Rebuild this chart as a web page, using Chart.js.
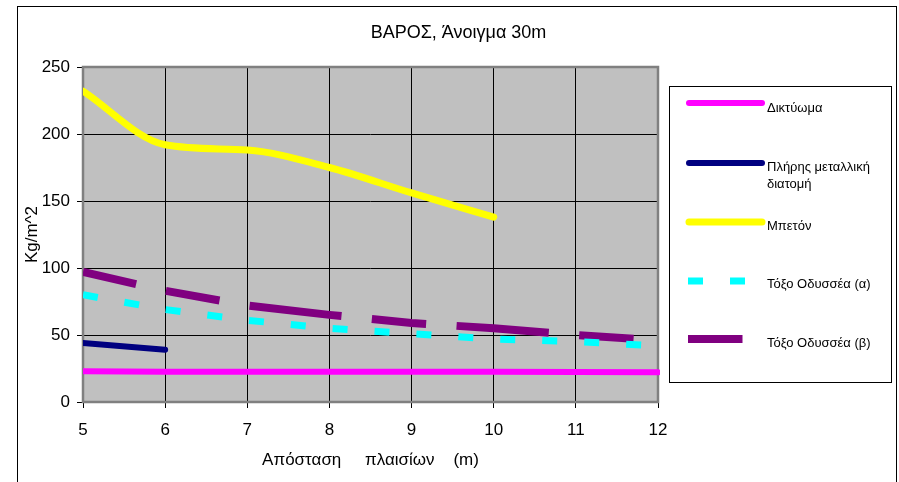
<!DOCTYPE html>
<html><head><meta charset="utf-8">
<script src="https://cdn.jsdelivr.net/npm/chart.js@4"></script>
<style>html,body{margin:0;padding:0;background:#fff;overflow:hidden}#wrap{position:relative;width:899px;height:482px}</style>
</head><body><div id="wrap"><canvas id="c" width="899" height="482"></canvas></div>
<script>
const xValues = [5, 6, 7, 8, 9, 10, 11, 12];
const diktyoma = [23, 22.5, 22.5, 22.5, 22.5, 22.5, 22.3, 22.2];
const plirisMetalliki = [44, 39];
const beton = [232, 192, 188, 175, 156, 138];
const toxoA = [80, 69, 61, 55, 51, 47, 45, 42];
const toxoB = [97, 83, 72, 65, 59, 55, 50, 46];
const yTicks = [0, 50, 100, 150, 200, 250];
const seriesNames = ['Δικτύωμα', ['Πλήρης μεταλλική', 'διατομή'], 'Μπετόν', 'Τόξο Οδυσσέα (α)', 'Τόξο Οδυσσέα (β)'];
const chartTitle = 'ΒΑΡΟΣ, Άνοιγμα 30m';
const xTitle = 'Απόσταση     πλαισίων    (m)';
const yTitle = 'Kg/m^2';

const FONT = '"Liberation Sans", Arial, sans-serif';
const pts = vals => vals.map((v, i) => ({ x: xValues[i], y: v }));
const CLIP = { left: 0, top: 5, right: 2, bottom: 5 };

const frameAndPlot = {
  id: 'frameAndPlot',
  beforeDraw(chart) {
    const { ctx, chartArea: a } = chart;
    ctx.save();
    ctx.fillStyle = '#fff';
    ctx.fillRect(0, 0, chart.width, chart.height);
    ctx.strokeStyle = '#000';
    ctx.lineWidth = 1;
    ctx.strokeRect(17.5, 6.5, 879, 520);
    ctx.fillStyle = '#C0C0C0';
    ctx.fillRect(a.left, a.top, a.right - a.left, a.bottom - a.top);
    ctx.restore();
  },
  beforeDatasetsDraw(chart) {
    const { ctx, chartArea: a } = chart;
    ctx.save();
    ctx.strokeStyle = '#808080';
    ctx.lineWidth = 2.5;
    ctx.strokeRect(a.left, a.top, a.right - a.left, a.bottom - a.top);
    ctx.restore();
  }
};

const boxLegend = {
  id: 'boxLegend',
  afterDraw(chart) {
    const ctx = chart.ctx;
    ctx.save();
    ctx.strokeStyle = '#000';
    ctx.lineWidth = 1;
    ctx.strokeRect(669.5, 86.5, 222, 296);
    const lineYs = [103, 163, 222, 281, 339];
    const textYs = [[108], [167, 184], [226], [284], [343]];
    chart.data.datasets.forEach((ds, i) => {
      const y = lineYs[i];
      ctx.save();
      ctx.strokeStyle = ds.borderColor;
      ctx.lineWidth = ds.borderWidth;
      ctx.beginPath();
      if (ds.borderDash && ds.borderDash.length) {
        ctx.lineCap = 'butt';
        ctx.setLineDash(ds.borderDash);
        ctx.moveTo(688, y); ctx.lineTo(766, y);
      } else {
        ctx.lineCap = 'round';
        ctx.moveTo(689, y); ctx.lineTo(762, y);
      }
      ctx.stroke();
      ctx.restore();
      const name = seriesNames[i];
      const lines = Array.isArray(name) ? name : [name];
      ctx.fillStyle = '#000';
      ctx.font = '13px ' + FONT;
      ctx.textBaseline = 'middle';
      ctx.textAlign = 'left';
      lines.forEach((t, j) => ctx.fillText(t, 767, textYs[i][j]));
    });
    ctx.restore();
  }
};

new Chart(document.getElementById('c'), {
  type: 'line',
  data: {
    datasets: [
      { label: 'Δικτύωμα', data: pts(diktyoma), borderColor: '#FF00FF', borderWidth: 6, borderCapStyle: 'round', pointRadius: 0, tension: 0, clip: CLIP },
      { label: 'Πλήρης μεταλλική διατομή', data: pts(plirisMetalliki), borderColor: '#000080', borderWidth: 6, borderCapStyle: 'round', pointRadius: 0, tension: 0, clip: CLIP },
      { label: 'Μπετόν', data: pts(beton), borderColor: '#FFFF00', borderWidth: 7, borderCapStyle: 'round', pointRadius: 0, cubicInterpolationMode: 'monotone', clip: CLIP },
      { label: 'Τόξο Οδυσσέα (α)', data: pts(toxoA), borderColor: '#00FFFF', borderWidth: 7, borderCapStyle: 'butt', borderDash: [15, 27], pointRadius: 0, tension: 0, clip: CLIP },
      { label: 'Τόξο Οδυσσέα (β)', data: pts(toxoB), borderColor: '#800080', borderWidth: 8, borderCapStyle: 'butt', borderDash: [54.5, 30.5, 54.5, 30.5, 92.5, 30.5, 54.5, 30.5, 92.5, 30.5, 54.5, 30.5], pointRadius: 0, tension: 0, clip: CLIP }
    ]
  },
  options: {
    responsive: false,
    animation: false,
    devicePixelRatio: 1,
    layout: { padding: { left: 18, right: 0, top: 0, bottom: 0 } },
    plugins: {
      legend: { display: false },
      tooltip: { enabled: false },
      title: {
        display: true, text: chartTitle, color: '#000',
        font: { family: FONT, size: 18, weight: 'normal' },
        padding: { top: 22.2, bottom: 23.2 }
      }
    },
    scales: {
      x: {
        type: 'linear', min: 5, max: 12,
        afterBuildTicks(s) { s.ticks = xValues.map(v => ({ value: v })); },
        ticks: { color: '#000', font: { family: FONT, size: 17 }, padding: 12, maxRotation: 0, autoSkip: false },
        grid: { color: '#000', lineWidth: 1, tickLength: 6, tickColor: '#000', drawTicks: true },
        border: { display: false },
        title: { display: true, text: xTitle, color: '#000', font: { family: FONT, size: 17 }, padding: { top: 0, bottom: 11 } },
        afterFit(s) { s.height = 80; }
      },
      y: {
        type: 'linear', min: 0, max: 250,
        afterBuildTicks(s) { s.ticks = yTicks.map(v => ({ value: v })); },
        ticks: { color: '#000', font: { family: FONT, size: 17 }, padding: 7 },
        grid: { color: '#000', lineWidth: 1, tickLength: 6, tickColor: '#000', drawTicks: true },
        border: { display: false },
        title: { display: true, text: yTitle, color: '#000', font: { family: FONT, size: 17 }, padding: { top: 4, bottom: 0 } },
        afterFit(s) { s.width = 65; }
      },
      legendSpace: {
        type: 'linear', position: 'right', display: true,
        ticks: { display: false },
        grid: { display: false, drawTicks: false },
        border: { display: false },
        afterFit(s) { s.width = 241; }
      }
    }
  },
  plugins: [frameAndPlot, boxLegend]
});
</script>
</body></html>
